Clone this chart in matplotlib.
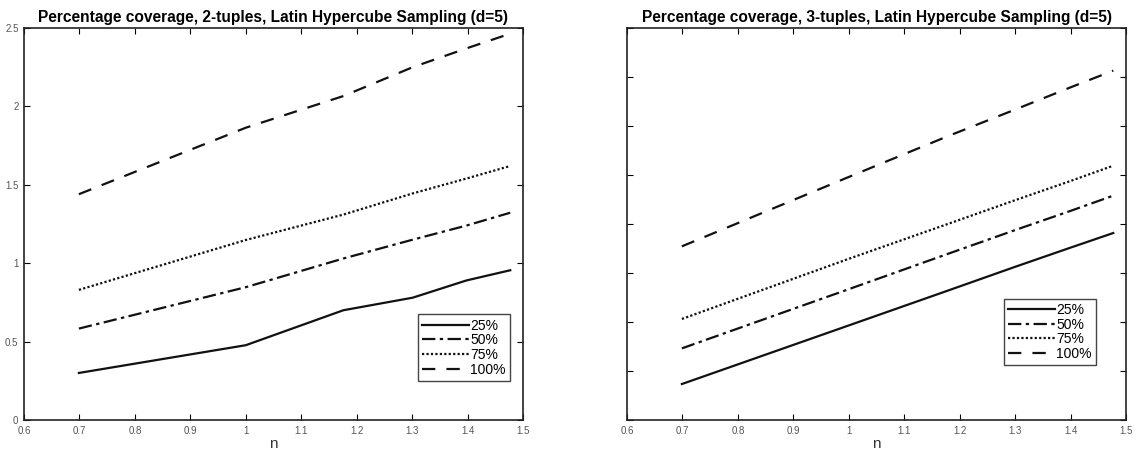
import numpy as np
import matplotlib
matplotlib.use('Agg')
import matplotlib.pyplot as plt

plt.rcParams['font.family'] = ['Liberation Sans', 'DejaVu Sans']

# log10(n) positions
x = [0.699, 1.0, 1.176, 1.301, 1.398, 1.477]

labels = ['25%', '50%', '75%', '100%']

# 2-tuples
pair_25 = [0.30, 0.477, 0.70, 0.78, 0.89, 0.955]
pair_50 = [0.583, 0.847, 1.03, 1.15, 1.24, 1.322]
pair_75 = [0.83, 1.148, 1.31, 1.445, 1.54, 1.62]
pair_100 = [1.44, 1.864, 2.066, 2.25, 2.37, 2.464]

# 3-tuples
trip_25 = [0.367, 0.965, 1.315, 1.565, 1.755, 1.908]
trip_50 = [0.731, 1.335, 1.69, 1.94, 2.13, 2.289]
trip_75 = [1.031, 1.645, 1.995, 2.245, 2.435, 2.595]
trip_100 = [1.772, 2.48, 2.89, 3.17, 3.39, 3.565]

styles = [dict(ls='-'),
          dict(ls=(0, (6, 2, 1.5, 2))),
          dict(ls=(0, (1, 1))),
          dict(ls=(0, (6, 5)))]

fig = plt.figure(figsize=(11.4, 4.57), dpi=100)
ax1 = fig.add_axes([24 / 1140, 37 / 457, 499 / 1140, 392 / 457])
ax2 = fig.add_axes([627 / 1140, 37 / 457, 499 / 1140, 392 / 457])

for ax, series, title in [
        (ax1, [pair_25, pair_50, pair_75, pair_100],
         'Percentage coverage, 2-tuples, Latin Hypercube Sampling (d=5)'),
        (ax2, [trip_25, trip_50, trip_75, trip_100],
         'Percentage coverage, 3-tuples, Latin Hypercube Sampling (d=5)')]:
    for ys, lab, st in zip(series, labels, styles):
        ax.plot(x, ys, color='#111111', lw=1.6, label=lab, **st)
    ax.set_xlim(0.6, 1.5)
    ax.set_xticks(np.arange(0.6, 1.51, 0.1))
    ax.set_xticklabels(['0.6', '0.7', '0.8', '0.9', '1', '1.1', '1.2', '1.3', '1.4', '1.5'])
    ax.tick_params(direction='in', top=True, right=True, length=4, width=0.8,
                   labelsize=7, labelcolor='#555555', pad=4)
    for sp in ax.spines.values():
        sp.set_linewidth(1.2)
        sp.set_color('#222222')
    ax.set_xlabel('n', fontsize=11, color='#333333', labelpad=1)
    ax.set_title(title, fontsize=11.2, fontweight='bold', pad=4)

ax1.set_ylim(0, 2.5)
ax1.set_yticks([0, 0.5, 1, 1.5, 2, 2.5])
ax1.set_yticklabels(['0', '0.5', '1', '1.5', '2', '2.5'])
ax1.legend(loc='lower right', bbox_to_anchor=(0.974, 0.1), fontsize=10,
           handlelength=3.4, handletextpad=0.1, labelspacing=0.05,
           borderpad=0.3, borderaxespad=0, fancybox=False, framealpha=1,
           edgecolor='#444444')

ax2.set_ylim(0, 4)
ax2.set_yticks(np.arange(0, 4.01, 0.5))
ax2.set_yticklabels([])
ax2.legend(loc='lower right', bbox_to_anchor=(0.94, 0.14), fontsize=10,
           handlelength=3.4, handletextpad=0.1, labelspacing=0.05,
           borderpad=0.3, borderaxespad=0, fancybox=False, framealpha=1,
           edgecolor='#444444')

fig.savefig('out.png', dpi=100)
